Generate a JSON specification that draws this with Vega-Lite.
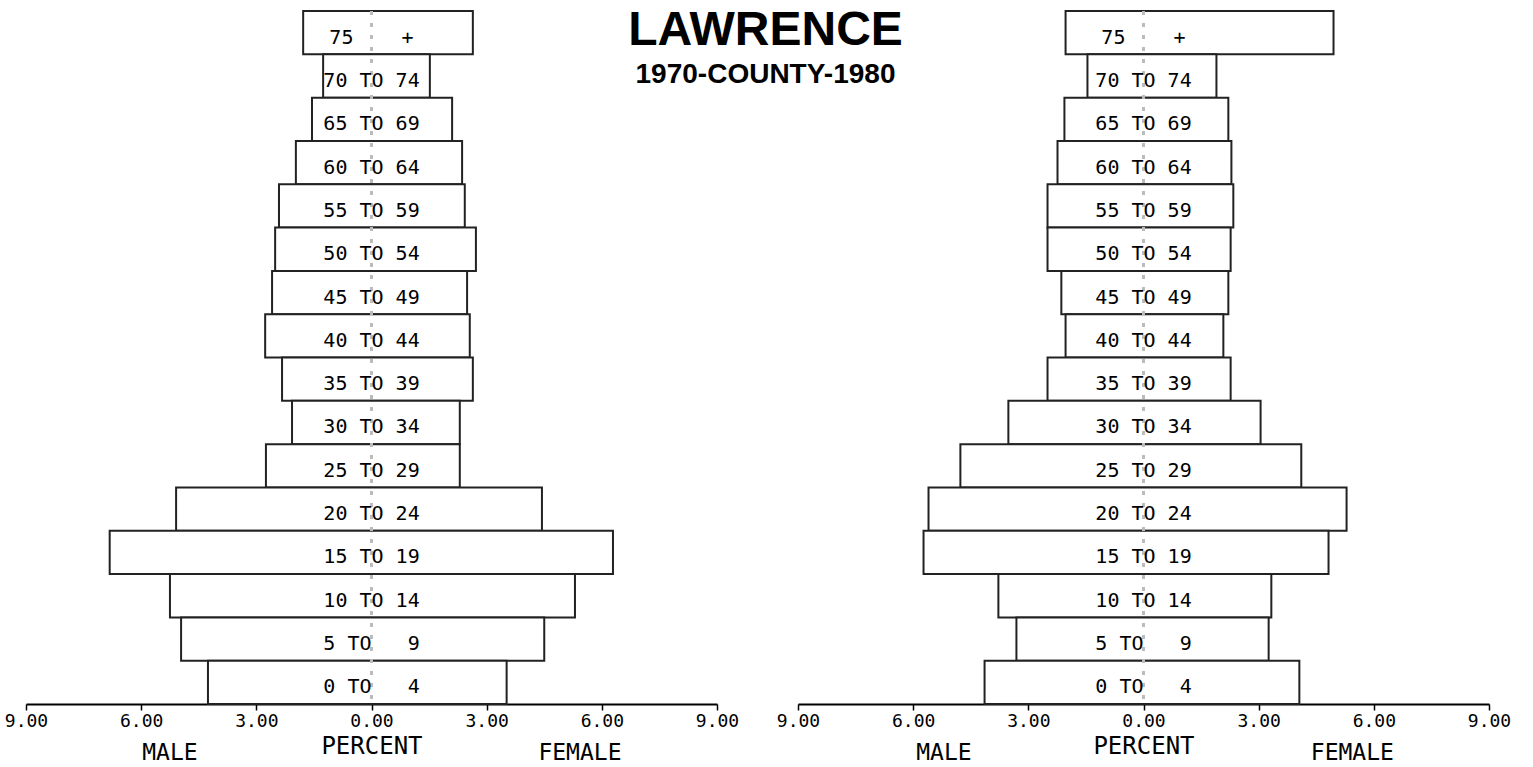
{
  "$schema": "https://vega.github.io/schema/vega-lite/v6.json",
  "background": "white",
  "padding": {"left": 4, "top": 7, "right": 4, "bottom": 0},
  "config": {"view": {"stroke": null}, "font": "DejaVu Sans Mono"},
  "title": {
    "text": "LAWRENCE",
    "subtitle": "1970-COUNTY-1980",
    "anchor": "middle",
    "dx": 8,
    "font": "Liberation Sans",
    "fontSize": 48,
    "fontWeight": "bold",
    "color": "black",
    "subtitleFont": "Liberation Sans",
    "subtitleFontSize": 28,
    "subtitleFontWeight": "bold",
    "subtitleColor": "black",
    "subtitlePadding": 6,
    "offset": -79
  },
  "datasets": {
    "pyr": [
      {"year": 1970, "age": "75\u00a0\u00a0\u00a0\u00a0+\u00a0", "male": -1.78, "female": 2.64},
      {"year": 1970, "age": "70 TO 74", "male": -1.26, "female": 1.52},
      {"year": 1970, "age": "65 TO 69", "male": -1.55, "female": 2.10},
      {"year": 1970, "age": "60 TO 64", "male": -1.97, "female": 2.36},
      {"year": 1970, "age": "55 TO 59", "male": -2.41, "female": 2.43},
      {"year": 1970, "age": "50 TO 54", "male": -2.51, "female": 2.72},
      {"year": 1970, "age": "45 TO 49", "male": -2.59, "female": 2.49},
      {"year": 1970, "age": "40 TO 44", "male": -2.77, "female": 2.56},
      {"year": 1970, "age": "35 TO 39", "male": -2.33, "female": 2.64},
      {"year": 1970, "age": "30 TO 34", "male": -2.07, "female": 2.30},
      {"year": 1970, "age": "25 TO 29", "male": -2.75, "female": 2.30},
      {"year": 1970, "age": "20 TO 24", "male": -5.09, "female": 4.44},
      {"year": 1970, "age": "15 TO 19", "male": -6.82, "female": 6.29},
      {"year": 1970, "age": "10 TO 14", "male": -5.25, "female": 5.30},
      {"year": 1970, "age": "5\u00a0TO\u00a0\u00a0\u00a09", "male": -4.96, "female": 4.50},
      {"year": 1970, "age": "0\u00a0TO\u00a0\u00a0\u00a04", "male": -4.26, "female": 3.52},
      {"year": 1980, "age": "75\u00a0\u00a0\u00a0\u00a0+\u00a0", "male": -2.03, "female": 4.95},
      {"year": 1980, "age": "70 TO 74", "male": -1.46, "female": 1.90},
      {"year": 1980, "age": "65 TO 69", "male": -2.06, "female": 2.21},
      {"year": 1980, "age": "60 TO 64", "male": -2.24, "female": 2.29},
      {"year": 1980, "age": "55 TO 59", "male": -2.50, "female": 2.34},
      {"year": 1980, "age": "50 TO 54", "male": -2.50, "female": 2.27},
      {"year": 1980, "age": "45 TO 49", "male": -2.14, "female": 2.21},
      {"year": 1980, "age": "40 TO 44", "male": -2.03, "female": 2.08},
      {"year": 1980, "age": "35 TO 39", "male": -2.50, "female": 2.27},
      {"year": 1980, "age": "30 TO 34", "male": -3.52, "female": 3.05},
      {"year": 1980, "age": "25 TO 29", "male": -4.77, "female": 4.11},
      {"year": 1980, "age": "20 TO 24", "male": -5.60, "female": 5.29},
      {"year": 1980, "age": "15 TO 19", "male": -5.73, "female": 4.82},
      {"year": 1980, "age": "10 TO 14", "male": -3.78, "female": 3.33},
      {"year": 1980, "age": "5\u00a0TO\u00a0\u00a0\u00a09", "male": -3.31, "female": 3.26},
      {"year": 1980, "age": "0\u00a0TO\u00a0\u00a0\u00a04", "male": -4.14, "female": 4.06}
    ]
  },
  "spacing": 37,
  "hconcat": [
    {
      "width": 691,
      "height": 693,
      "data": {"name": "pyr"},
      "transform": [{"filter": "datum.year == 1970"}],
      "layer": [
        {
          "mark": {"type": "bar", "fill": "white", "stroke": "#222", "strokeWidth": 2},
          "encoding": {
            "y": {"field": "age", "type": "ordinal", "sort": null, "axis": null, "scale": {"paddingInner": 0, "paddingOuter": 0}},
            "x": {
              "field": "male",
              "type": "quantitative",
              "scale": {"domain": [-9, 9], "nice": false, "zero": false},
              "axis": {
                "values": [-9, -6, -3, 0, 3, 6, 9],
                "labelExpr": "format(abs(datum.value), '.2f')",
                "title": "PERCENT",
                "titleFont": "DejaVu Sans Mono",
                "titleFontSize": 24,
                "titleFontWeight": "normal",
                "titleColor": "black",
                "titlePadding": 4,
                "labelFont": "DejaVu Sans Mono",
                "labelFontSize": 18,
                "labelColor": "black",
                "labelPadding": 2,
                "labelFlush": false,
                "labelOverlap": false,
                "domainColor": "black",
                "domainWidth": 2,
                "tickColor": "black",
                "tickSize": 6,
                "tickWidth": 1.5,
                "grid": false
              }
            },
            "x2": {"field": "female"}
          }
        },
        {
          "mark": {"type": "rule", "stroke": "#bbb", "strokeDash": [4, 8], "strokeWidth": 1.5},
          "encoding": {"x": {"datum": 0}}
        },
        {
          "mark": {"type": "text", "font": "DejaVu Sans Mono", "fontSize": 20, "baseline": "alphabetic", "dy": 11, "color": "black"},
          "encoding": {
            "y": {"field": "age", "type": "ordinal", "sort": null},
            "x": {"datum": 0},
            "text": {"field": "age"}
          }
        },
        {
          "data": {"values": [{"label": "MALE"}]},
          "mark": {"type": "text", "font": "DejaVu Sans Mono", "fontSize": 23, "baseline": "alphabetic", "dy": 78, "color": "black"},
          "encoding": {"x": {"datum": -5.25}, "y": {"datum": "0\u00a0TO\u00a0\u00a0\u00a04", "type": "ordinal"}, "text": {"field": "label"}}
        },
        {
          "data": {"values": [{"label": "FEMALE"}]},
          "mark": {"type": "text", "font": "DejaVu Sans Mono", "fontSize": 23, "baseline": "alphabetic", "dy": 78, "color": "black"},
          "encoding": {"x": {"datum": 5.43}, "y": {"datum": "0\u00a0TO\u00a0\u00a0\u00a04", "type": "ordinal"}, "text": {"field": "label"}}
        }
      ]
    },
    {
      "width": 691,
      "height": 693,
      "data": {"name": "pyr"},
      "transform": [{"filter": "datum.year == 1980"}],
      "layer": [
        {
          "mark": {"type": "bar", "fill": "white", "stroke": "#222", "strokeWidth": 2},
          "encoding": {
            "y": {"field": "age", "type": "ordinal", "sort": null, "axis": null, "scale": {"paddingInner": 0, "paddingOuter": 0}},
            "x": {
              "field": "male",
              "type": "quantitative",
              "scale": {"domain": [-9, 9], "nice": false, "zero": false},
              "axis": {
                "values": [-9, -6, -3, 0, 3, 6, 9],
                "labelExpr": "format(abs(datum.value), '.2f')",
                "title": "PERCENT",
                "titleFont": "DejaVu Sans Mono",
                "titleFontSize": 24,
                "titleFontWeight": "normal",
                "titleColor": "black",
                "titlePadding": 4,
                "labelFont": "DejaVu Sans Mono",
                "labelFontSize": 18,
                "labelColor": "black",
                "labelPadding": 2,
                "labelFlush": false,
                "labelOverlap": false,
                "domainColor": "black",
                "domainWidth": 2,
                "tickColor": "black",
                "tickSize": 6,
                "tickWidth": 1.5,
                "grid": false
              }
            },
            "x2": {"field": "female"}
          }
        },
        {
          "mark": {"type": "rule", "stroke": "#bbb", "strokeDash": [4, 8], "strokeWidth": 1.5},
          "encoding": {"x": {"datum": 0}}
        },
        {
          "mark": {"type": "text", "font": "DejaVu Sans Mono", "fontSize": 20, "baseline": "alphabetic", "dy": 11, "color": "black"},
          "encoding": {
            "y": {"field": "age", "type": "ordinal", "sort": null},
            "x": {"datum": 0},
            "text": {"field": "age"}
          }
        },
        {
          "data": {"values": [{"label": "MALE"}]},
          "mark": {"type": "text", "font": "DejaVu Sans Mono", "fontSize": 23, "baseline": "alphabetic", "dy": 78, "color": "black"},
          "encoding": {"x": {"datum": -5.2}, "y": {"datum": "0\u00a0TO\u00a0\u00a0\u00a04", "type": "ordinal"}, "text": {"field": "label"}}
        },
        {
          "data": {"values": [{"label": "FEMALE"}]},
          "mark": {"type": "text", "font": "DejaVu Sans Mono", "fontSize": 23, "baseline": "alphabetic", "dy": 78, "color": "black"},
          "encoding": {"x": {"datum": 5.44}, "y": {"datum": "0\u00a0TO\u00a0\u00a0\u00a04", "type": "ordinal"}, "text": {"field": "label"}}
        }
      ]
    }
  ]
}
